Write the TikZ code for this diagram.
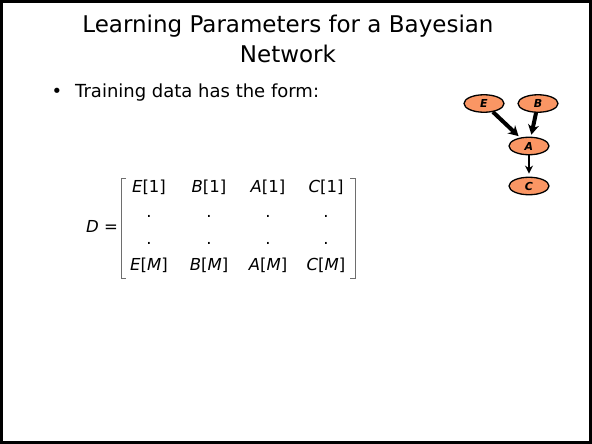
\documentclass[tikz,border=0pt]{standalone}
\usepackage{fontspec}
\setmainfont{DejaVu Sans}
\usepackage{xcolor}
\definecolor{netfill}{RGB}{250, 150, 100}
\definecolor{bracketgray}{RGB}{110, 110, 110}
\usepackage{tikz}
\usetikzlibrary{shapes.geometric, arrows.meta, positioning}

\begin{document}
\begin{tikzpicture}[
    x=1pt, y=-1pt,
    titletext/.style={font=\fontsize{23}{27}\selectfont, inner sep=0pt, anchor=base},
    bodytext/.style={font=\fontsize{18}{21}\selectfont, inner sep=0pt, anchor=base},
    entry/.style={font=\fontsize{16.5}{20}\selectfont, inner sep=0pt},
    dotentry/.style={font=\fontsize{16.5}{20}\selectfont, inner sep=0pt, anchor=base},
    var/.style={ellipse, minimum width=40pt, minimum height=17.5pt, inner sep=0pt, draw=black, line width=1.3pt, fill=netfill, font=\fontsize{11}{11}\selectfont\bfseries\itshape},
    arrow/.style={line width=4pt, shorten >=2pt, -{Stealth[length=10pt, width=11pt]}},
    thinarrow/.style={line width=2.4pt, shorten >=3pt, -{Stealth[length=8pt, width=8pt]}}
]
\useasboundingbox (0,0) rectangle (592,444);

% Frame
\draw[line width=2.4pt] (1.4,1.4) rectangle (590.6,442.6);

% Title
\node (title1) [titletext] at (288,33) {Learning Parameters for a Bayesian};
\node (title2) [titletext] at (288,63) {Network};

% Bullet
\node (bullet) [bodytext] at (57,98) {\textbullet};
\node (training) [bodytext, anchor=base west] at (75,98) {Training data has the form:};

% Network
\node (e) [var] at (484,103.5) {E};
\node (b) [var] at (538,103.5) {B};
\node (a) [var] at (529,146) {A};
\node (c) [var] at (529,186) {C};

\draw [arrow] (e) -- (a);
\draw [arrow] (b) -- (a);
\draw [thinarrow] (a) -- (c);

% Data matrix
\node (dlabel) [entry] at (102,226) {\textit{D} =};
\foreach \v/\x in {E/149, B/209, A/268, C/326} {
    \node (\v first) [entry] at (\x,187) {\textit{\v}[1]};
    \node (\v dotone) [dotentry] at (\x,217) {.};
    \node (\v dottwo) [dotentry] at (\x,244) {.};
    \node (\v last) [entry] at (\x,265) {\textit{\v}[\textit{M}]};
}

% Brackets
\draw[bracketgray, line width=0.9pt] (126,178) -- (121,178) -- (121,278) -- (126,278);
\draw[bracketgray, line width=0.9pt] (350,178) -- (355,178) -- (355,278) -- (350,278);

\end{tikzpicture}
\end{document}
